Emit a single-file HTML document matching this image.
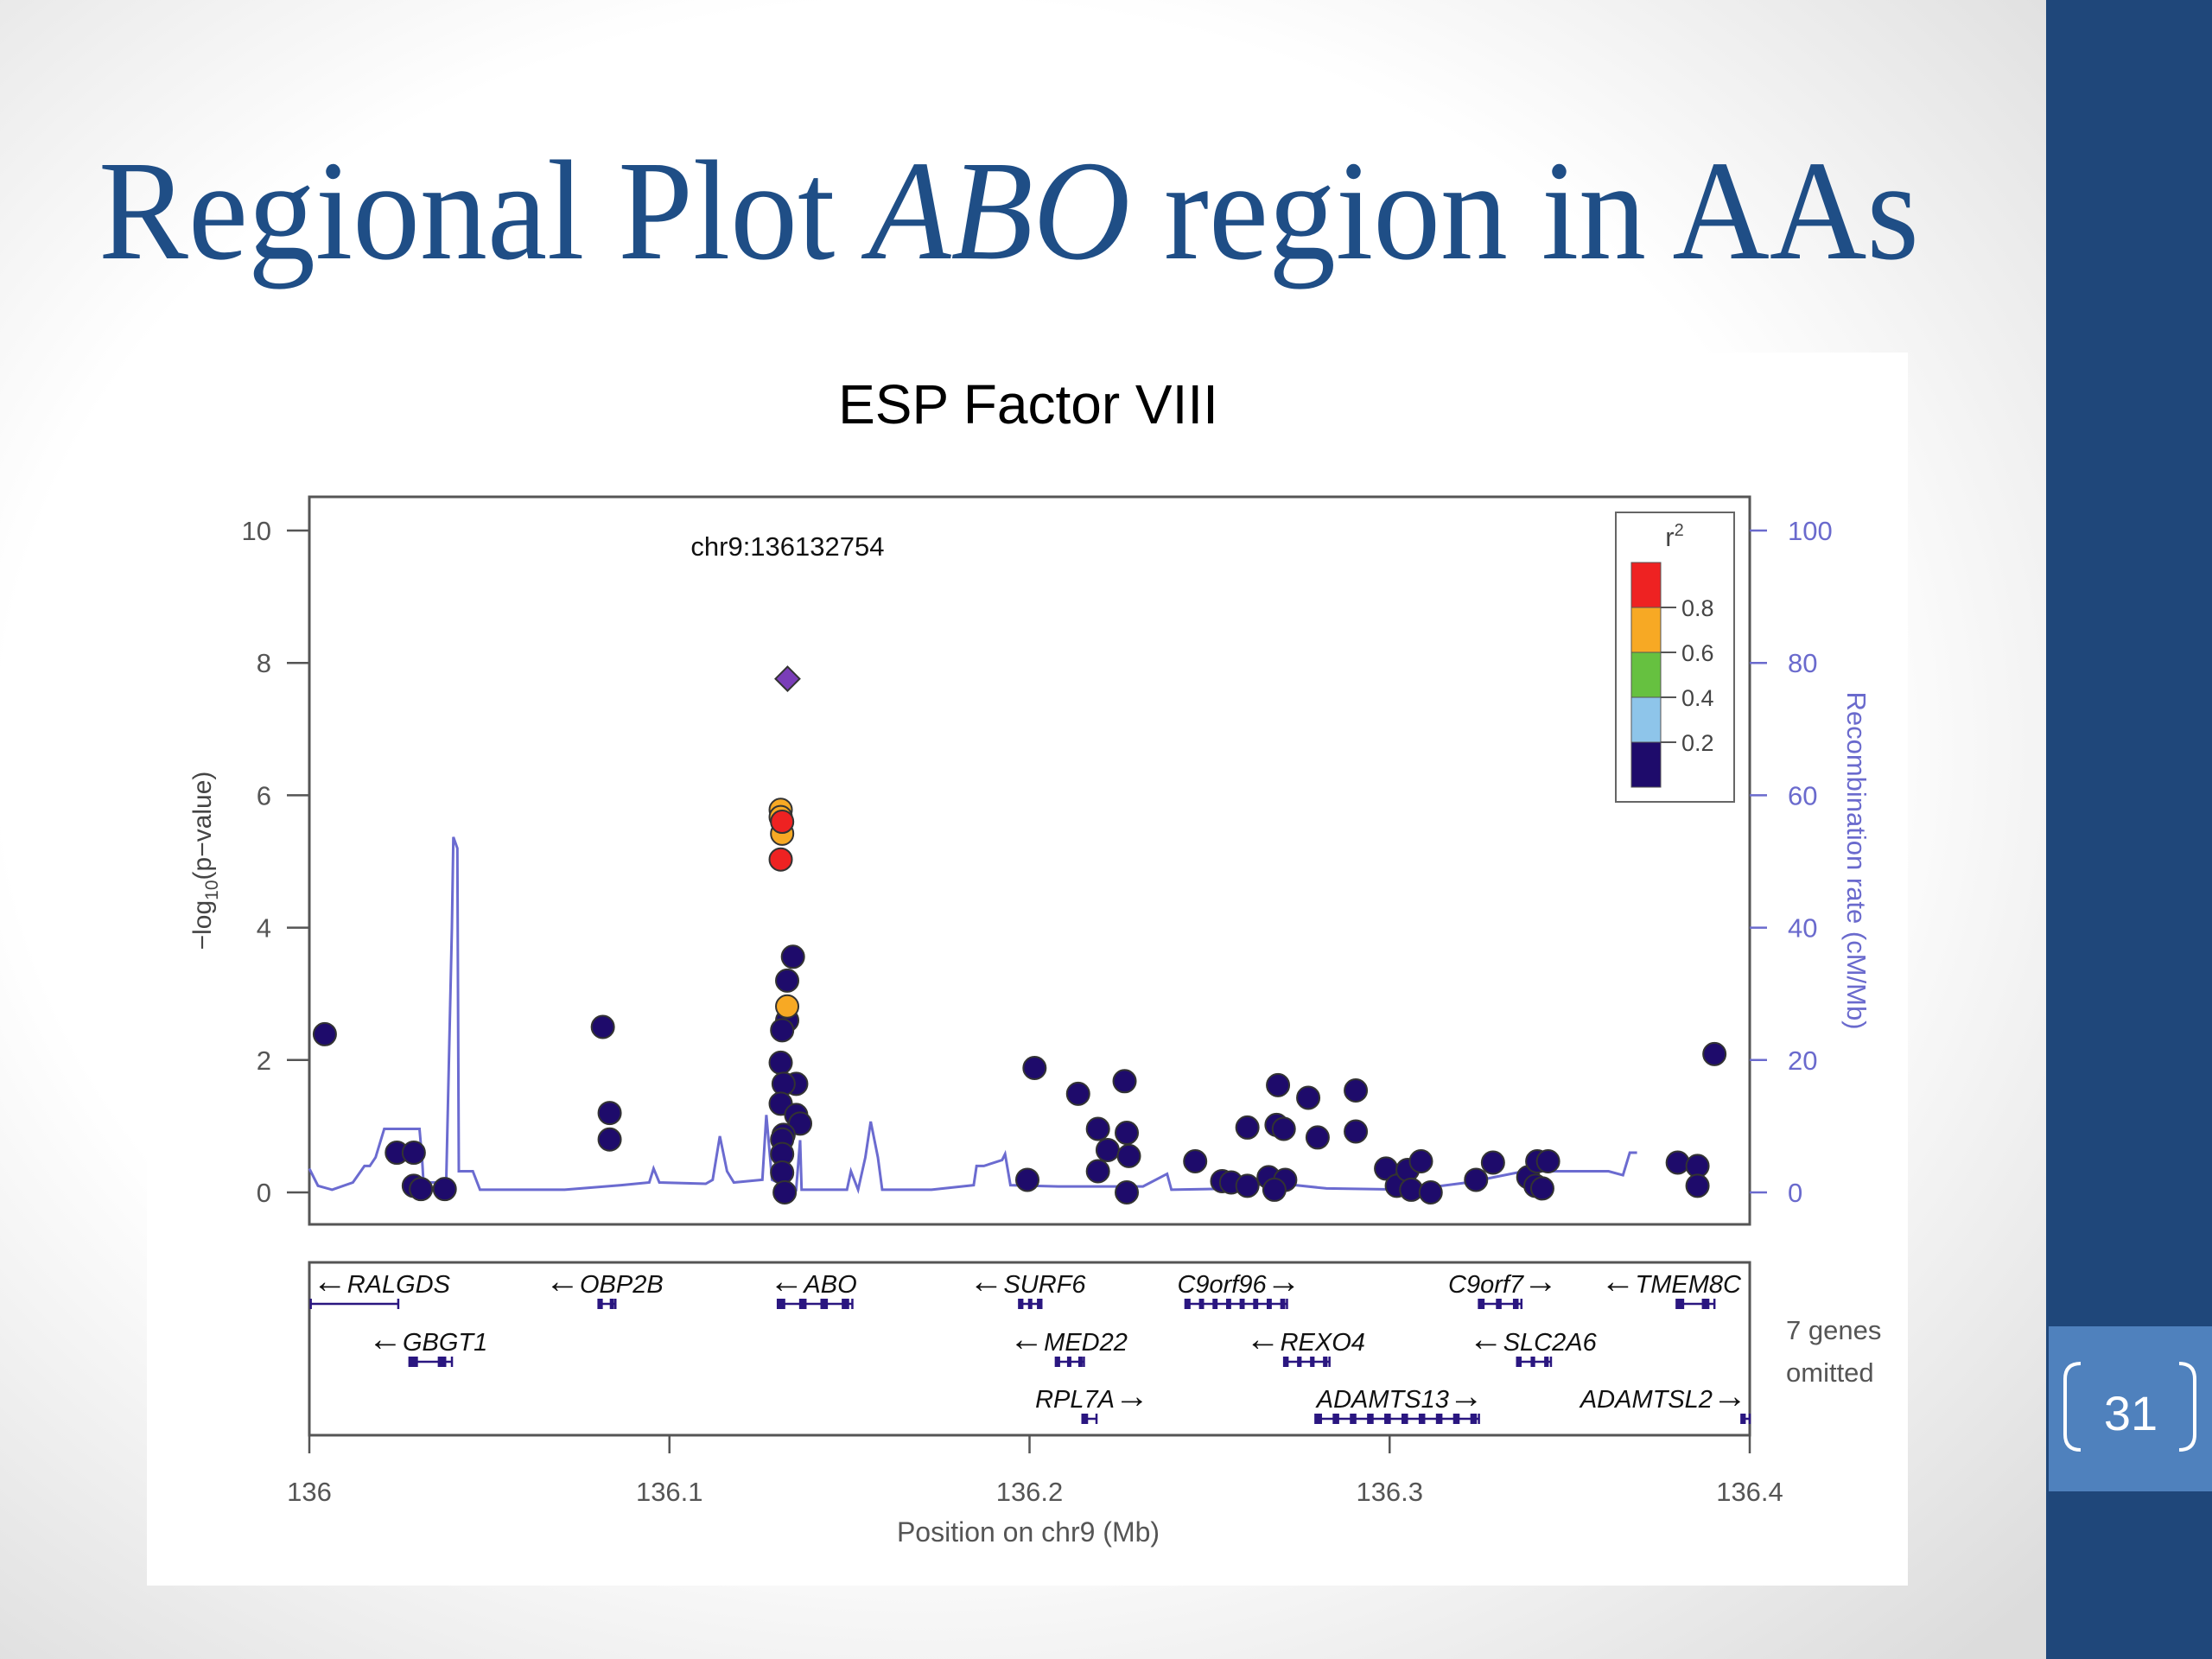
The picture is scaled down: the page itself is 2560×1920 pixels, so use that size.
<!DOCTYPE html>
<html><head><meta charset="utf-8"><style>
html,body{margin:0;padding:0;width:2560px;height:1920px;overflow:hidden}
svg{display:block}
</style></head><body>
<svg id="root" width="2560" height="1920" viewBox="0 0 2560 1920" xmlns="http://www.w3.org/2000/svg">
<defs>
<radialGradient id="bg" cx="0.45" cy="0.45" r="0.75">
<stop offset="0.6" stop-color="#ffffff"/><stop offset="1" stop-color="#dcdcdc"/>
</radialGradient>
</defs>
<rect x="0" y="0" width="2368" height="1920" fill="url(#bg)"/>
<rect x="2368" y="0" width="192" height="1920" fill="#1f477a"/>
<rect x="2371" y="1535" width="189" height="191" fill="#4f81bd"/>
<path d="M2408 1578 Q2390 1578 2390 1596 L2390 1660 Q2390 1678 2408 1678" fill="none" stroke="#fff" stroke-width="4"/>
<path d="M2522 1578 Q2540 1578 2540 1596 L2540 1660 Q2540 1678 2522 1678" fill="none" stroke="#fff" stroke-width="4"/>
<text x="2466" y="1655" text-anchor="middle" font-family="Liberation Sans, sans-serif" font-size="56" fill="#fff">31</text>
<text x="114" y="299" font-family="Liberation Serif, serif" font-size="165" fill="#1f4e86" textLength="2107" lengthAdjust="spacingAndGlyphs">Regional Plot <tspan font-style="italic">ABO</tspan> region in AAs</text>
<rect x="170" y="408" width="2038" height="1427" fill="#ffffff"/>
<text x="1190" y="490" text-anchor="middle" font-family="Liberation Sans, sans-serif" font-size="64" fill="#000">ESP Factor VIII</text>
<g id="plot"></g>
<g id="genes"></g>
</svg>
<script>
// ---- data ----
const snpPos = [136.0043,136.0243,136.029,136.029,136.031,136.0376,136.0815,136.0834,136.0834,
136.1309,136.1309,136.1313,136.1313,136.1309,136.1327,136.1343,136.1327,136.1327,136.1313,136.1309,136.1352,136.1317,136.1309,136.1352,136.1363,136.1317,136.1313,136.1313,136.1313,136.1320,
136.2014,136.2135,136.219,136.2217,136.219,136.2264,136.227,136.2276,136.227,136.1994,136.246,136.2535,136.256,136.2605,136.2605,136.2664,136.269,136.2686,136.2706,136.271,136.268,136.2774,136.28,136.2906,136.2906,136.299,136.302,136.305,136.3087,136.306,136.3114,136.324,136.3287,136.3385,136.341,136.344,136.3405,136.3424,136.38,136.3855,136.3855,136.3902];
const snpLogP = [2.39,0.6,0.6,0.1,0.05,0.05,2.5,1.2,0.8,
5.78,5.67,5.6,5.42,5.03,2.81,3.56,3.2,2.6,2.45,1.96,1.64,1.64,1.34,1.17,1.04,0.87,0.8,0.58,0.3,0.0,
1.88,1.49,0.96,0.64,0.32,1.68,0.9,0.55,0,0.19,0.47,0.17,0.15,0.1,0.98,0.23,1.62,1.02,0.96,0.19,0.04,1.43,0.83,1.54,0.92,0.36,0.1,0.34,0.47,0.04,0,0.19,0.45,0.23,0.47,0.47,0.1,0.06,0.45,0.4,0.1,2.09];
const snpR2 = [0.1,0.1,0.1,0.1,0.1,0.1,0.1,0.1,0.1,
0.7,0.7,0.9,0.7,0.9,0.7,0.1,0.1,0.1,0.1,0.1,0.1,0.1,0.1,0.1,0.1,0.1,0.1,0.1,0.1,0.1,
0.1,0.1,0.1,0.1,0.1,0.1,0.1,0.1,0.1,0.1,0.1,0.1,0.1,0.1,0.1,0.1,0.1,0.1,0.1,0.1,0.1,0.1,0.1,0.1,0.1,0.1,0.1,0.1,0.1,0.1,0.1,0.1,0.1,0.1,0.1,0.1,0.1,0.1,0.1,0.1,0.1,0.1];
const leadPos = 136.1328;
const leadLogP = 7.76;
const recPos = [136.0000,136.0024,136.0063,136.0121,136.0153,136.0168,136.0184,136.0208,136.0306,136.0313,136.0317,136.0380,136.0396,136.0400,136.0411,136.0415,136.0454,136.0474,136.0709,136.0866,136.0944,136.0956,136.0972,136.1101,136.1120,136.1140,136.1160,136.1179,136.1258,136.1269,136.1285,136.1320,136.1352,136.1363,136.1367,136.1493,136.1504,136.1524,136.1544,136.1559,136.1579,136.1591,136.1728,136.1845,136.1853,136.1873,136.1924,136.1932,136.1947,136.2080,136.2315,136.2382,136.2394,136.2590,136.2668,136.2825,136.3060,136.3217,136.3373,136.3452,136.3608,136.3648,136.3667,136.3687];
const recRate = [3.6,1.0,0.4,1.5,4.0,4.0,5.3,9.6,9.6,5.3,1.5,1.5,40,53.7,52,3.2,3.2,0.4,0.4,1.1,1.5,3.6,1.5,1.3,1.9,8.5,3.2,1.5,1.9,11.7,1.9,1.0,0.4,7.9,0.4,0.4,3.2,0.4,5.3,10.7,5.3,0.4,0.4,1.1,4.0,4.0,4.9,5.8,1.1,0.9,0.9,2.8,0.4,0.6,1.5,0.6,0.4,1.5,3.2,3.2,3.2,2.6,6.0,6.0];
const xTicks = [136,136.1,136.2,136.3,136.4];
const xTickLabels = ["136","136.1","136.2","136.3","136.4"];
const yTicks = [0,2,4,6,8,10];
const yTickLabels = ["0","2","4","6","8","10"];
const rTicks = [0,20,40,60,80,100];
const rTickLabels = ["0","20","40","60","80","100"];
const legendBreaks = [0.8,0.6,0.4,0.2];
const legendColors = ["#ee2222","#f7a924","#66c140","#8ec5ea","#1e0b6b"];
const geneNames = ["RALGDS","OBP2B","ABO","SURF6","C9orf96","C9orf7","TMEM8C","GBGT1","MED22","REXO4","SLC2A6","RPL7A","ADAMTS13","ADAMTSL2"];
const geneStart = [136.0004,136.0803,136.1301,136.1971,136.2433,136.3248,136.3797,136.0278,136.2073,136.2707,136.3354,136.2147,136.2794,136.3977];
const geneEnd = [136.0247,136.0850,136.1508,136.2033,136.2715,136.3366,136.3902,136.0396,136.2151,136.2833,136.3448,136.2186,136.3248,136.4];
const geneRow = [0,0,0,0,0,0,0,1,1,1,1,2,2,2];
const geneStrand = [-1,-1,-1,-1,1,1,-1,-1,-1,-1,-1,1,1,1];
const geneExons = [0,2,4,3,8,3,2,2,3,4,3,1,10,1];
const geneLabelPos = [136.0200,136.0819,136.1399,136.1994,136.2582,136.3315,136.3781,136.0329,136.2108,136.2766,136.3397,136.2174,136.3029,136.3761];

// ---- axes ----
const X0=358, X1=2025, PT=575, PB=1417;
const sx = v => X0 + (v-136)/0.4*(X1-X0);
const sy = v => 1380 - v*76.6;
const sr = v => 1380 - v*7.66;
const NS="http://www.w3.org/2000/svg";
function mk(tag, attrs, parent){const e=document.createElementNS(NS,tag);for(const k in attrs)e.setAttribute(k,attrs[k]);parent.appendChild(e);return e;}
const plot=document.getElementById('plot');
const genes=document.getElementById('genes');
const F="Liberation Sans, sans-serif";

let e=mk('rect',{x:X0,y:PT,width:X1-X0,height:PB-PT,fill:'#fff',stroke:'#555','stroke-width':3},plot);



yTicks.forEach((t,i)=>{
  let l=mk('line',{x1:X0-26,x2:X0,y1:sy(t),y2:sy(t),stroke:'#555','stroke-width':2.5},plot);
  
  
  let tx=mk('text',{x:X0-44,y:sy(t)+11,'text-anchor':'end','font-family':F,'font-size':31,fill:'#555'},plot);
  tx.textContent=yTickLabels[i];
  
  
});
rTicks.forEach((t,i)=>{
  let l=mk('line',{x1:X1,x2:X1+20,y1:sr(t),y2:sr(t),stroke:'#6a6acd','stroke-width':2.5},plot);
  
  
  let tx=mk('text',{x:X1+44,y:sr(t)+11,'font-family':F,'font-size':31,fill:'#6a6acd'},plot);
  tx.textContent=rTickLabels[i];
  
  
});
let yt=mk('text',{x:0,y:0,transform:'translate(244,996) rotate(-90)','text-anchor':'middle','font-family':F,'font-size':30,fill:'#444'},plot);
yt.innerHTML='−log<tspan font-size="21" dy="8">10</tspan><tspan dy="-8">(p−value)</tspan>';


let rt=mk('text',{x:0,y:0,transform:'translate(2138,996) rotate(90)','text-anchor':'middle','font-family':F,'font-size':31,fill:'#6a6acd'},plot);
rt.textContent='Recombination rate (cM/Mb)';



let d=recPos.map((p,i)=>(i?'L':'M')+sx(p).toFixed(1)+' '+sr(recRate[i]).toFixed(1)).join(' ');
let rl=mk('path',{d:d,fill:'none',stroke:'#6b6bd0','stroke-width':3},plot);



function colorFor(r){return r>=0.8?legendColors[0]:r>=0.6?legendColors[1]:r>=0.4?legendColors[2]:r>=0.2?legendColors[3]:legendColors[4];}
const order=snpPos.map((_,i)=>i).sort((a,b)=>snpR2[a]-snpR2[b]);
order.forEach(i=>{
  let c=mk('circle',{cx:sx(snpPos[i]),cy:sy(snpLogP[i]),r:13,fill:colorFor(snpR2[i]),stroke:'#333','stroke-width':2},plot);
  
  
});
let lx=sx(leadPos), ly=sy(leadLogP);
let dm=mk('path',{d:`M${lx} ${ly-14} L${lx+14} ${ly} L${lx} ${ly+14} L${lx-14} ${ly} Z`,fill:'#7a3db8',stroke:'#333','stroke-width':2},plot);


let ll=mk('text',{x:sx(leadPos),y:643,'text-anchor':'middle','font-family':F,'font-size':31,fill:'#111'},plot);
ll.textContent='chr9:136132754';



let lg=mk('g',{},plot);


mk('rect',{x:1870,y:593,width:137,height:335,fill:'#fff',stroke:'#666','stroke-width':2},lg);
let lt=mk('text',{x:1938,y:632,'text-anchor':'middle','font-family':F,'font-size':31,fill:'#444'},lg);
lt.innerHTML='r<tspan font-size="20" dy="-12">2</tspan>';


legendColors.forEach((c,i)=>{
  let r=mk('rect',{x:1888,y:651+i*52,width:34,height:52,fill:c,stroke:'#555','stroke-width':1},lg);
  
  
});
legendBreaks.forEach((b,i)=>{
  let y=703+i*52;
  mk('line',{x1:1922,x2:1940,y1:y,y2:y,stroke:'#555','stroke-width':2},lg);
  let t=mk('text',{x:1946,y:y+10,'font-family':F,'font-size':27,fill:'#444'},lg);
  t.textContent=b.toFixed(1);
  
  
});

const GT=1461, GB=1661;
let gf=mk('rect',{x:X0,y:GT,width:X1-X0,height:GB-GT,fill:'#fff',stroke:'#555','stroke-width':3},genes);


const rowLabelY=[1496,1563,1629], rowGeneY=[1509,1576,1642];
geneNames.forEach((n,i)=>{
  let g=mk('g',{},genes);
  
  
  let y=rowGeneY[geneRow[i]], a=sx(geneStart[i]), b=sx(geneEnd[i]);
  mk('line',{x1:a,x2:b,y1:y,y2:y,stroke:'#2a1680','stroke-width':2.5},g);
  mk('line',{x1:a,x2:a,y1:y-6,y2:y+6,stroke:'#2a1680','stroke-width':2.5},g);
  mk('line',{x1:b,x2:b,y1:y-6,y2:y+6,stroke:'#2a1680','stroke-width':2.5},g);
  let w=b-a, k=geneExons[i];
  for(let j=0;j<k;j++){
    mk('rect',{x:a+w*j/Math.max(1,k-0.5),y:y-6,width:Math.max(5,w/k*0.4),height:12,fill:'#2a1680'},g);
  }
  let t=mk('text',{x:sx(geneLabelPos[i]),y:rowLabelY[geneRow[i]],'text-anchor':'middle','font-family':F,'font-style':'italic','font-size':29,fill:'#111'},g);
  t.innerHTML=geneStrand[i]<0?'<tspan font-size="40" font-style="normal">←</tspan>'+n:n+'<tspan font-size="40" font-style="normal">→</tspan>';
});
let om=mk('text',{x:2067,y:1550,'font-family':F,'font-size':31,fill:'#555'},genes);
om.innerHTML='<tspan x="2067">7 genes</tspan><tspan x="2067" dy="49">omitted</tspan>';



xTicks.forEach((t,i)=>{
  let l=mk('line',{x1:sx(t),x2:sx(t),y1:GB,y2:1682,stroke:'#555','stroke-width':2.5},genes);
  
  
  let tx=mk('text',{x:sx(t),y:1737,'text-anchor':'middle','font-family':F,'font-size':31,fill:'#555'},genes);
  tx.textContent=xTickLabels[i];
  
  
});
let xt=mk('text',{x:1190,y:1784,'text-anchor':'middle','font-family':F,'font-size':32,fill:'#555'},genes);
xt.textContent='Position on chr9 (Mb)';


</script>
</body></html>
